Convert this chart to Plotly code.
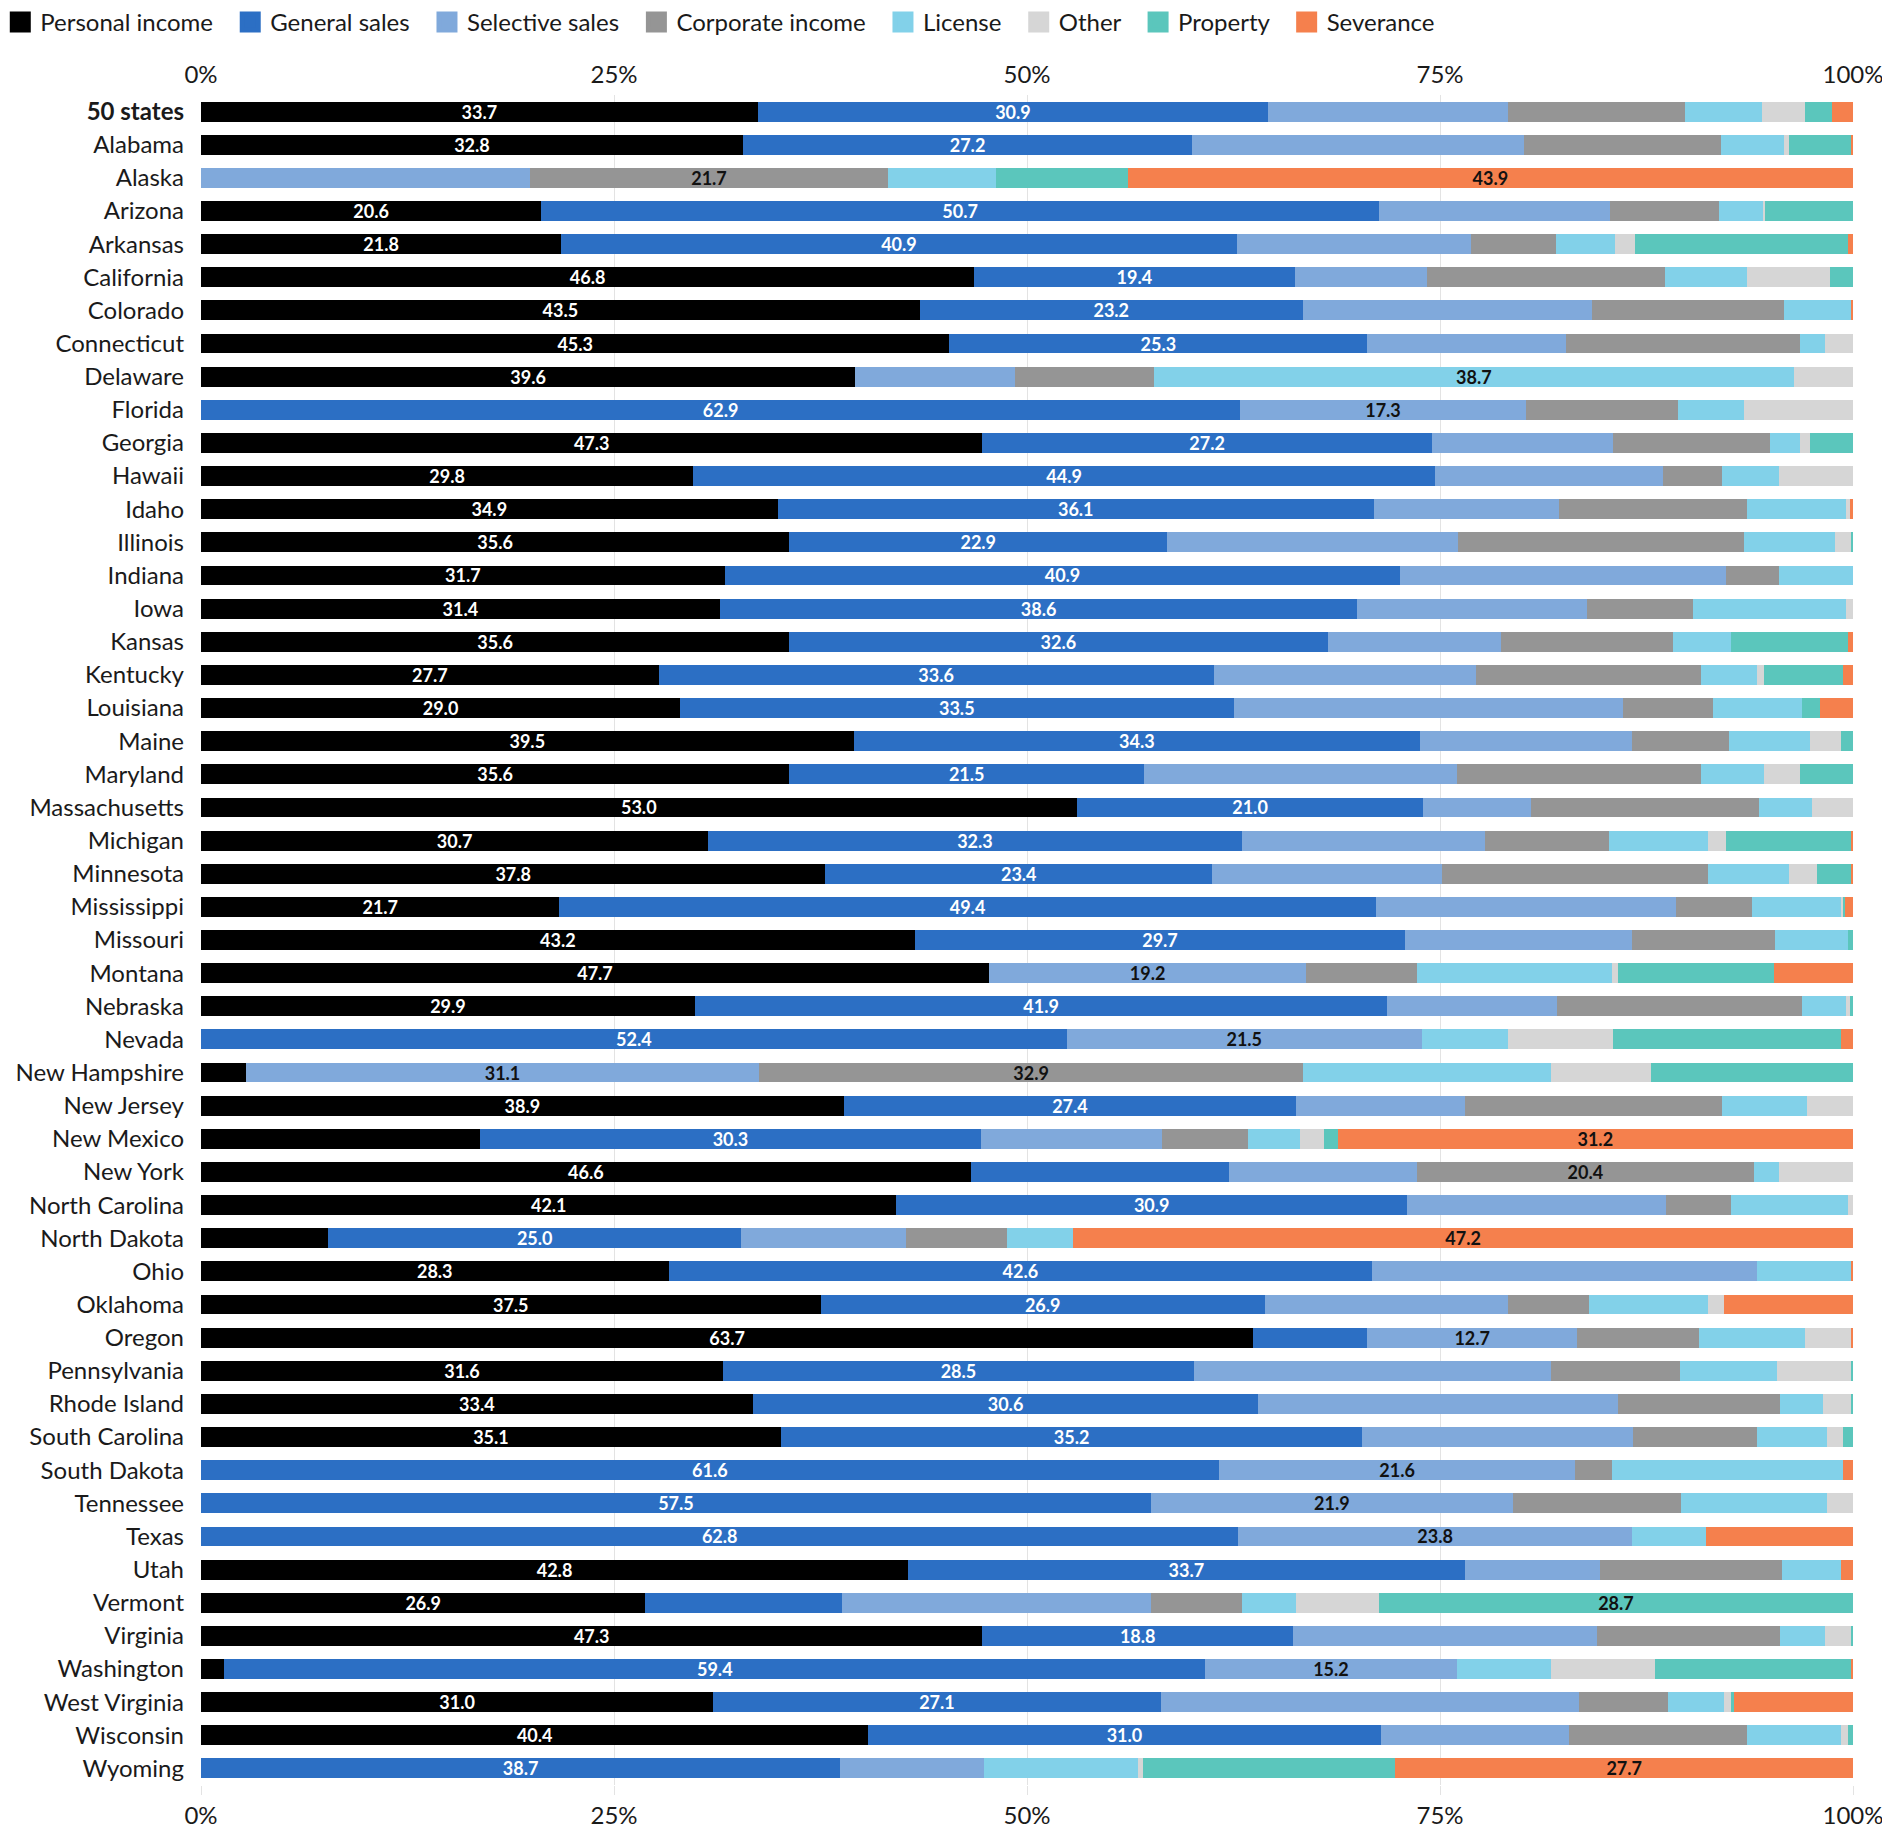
import plotly.graph_objects as go

states = ["50 states", "Alabama", "Alaska", "Arizona", "Arkansas", "California", "Colorado",
          "Connecticut", "Delaware", "Florida", "Georgia", "Hawaii", "Idaho", "Illinois",
          "Indiana", "Iowa", "Kansas", "Kentucky", "Louisiana", "Maine", "Maryland",
          "Massachusetts", "Michigan", "Minnesota", "Mississippi", "Missouri", "Montana",
          "Nebraska", "Nevada", "New Hampshire", "New Jersey", "New Mexico", "New York",
          "North Carolina", "North Dakota", "Ohio", "Oklahoma", "Oregon", "Pennsylvania",
          "Rhode Island", "South Carolina", "South Dakota", "Tennessee", "Texas", "Utah",
          "Vermont", "Virginia", "Washington", "West Virginia", "Wisconsin", "Wyoming"]

personal_income = [33.7, 32.8, 0, 20.6, 21.8, 46.8, 43.5, 45.3, 39.6, 0, 47.3, 29.8, 34.9, 35.6,
                   31.7, 31.4, 35.6, 27.7, 29.0, 39.5, 35.6, 53.0, 30.7, 37.8, 21.7, 43.2, 47.7,
                   29.9, 0, 2.7, 38.9, 16.9, 46.6, 42.1, 7.7, 28.3, 37.5, 63.7, 31.6, 33.4, 35.1,
                   0, 0, 0, 42.8, 26.9, 47.3, 1.4, 31.0, 40.4, 0]
general_sales = [30.9, 27.2, 0, 50.7, 40.9, 19.4, 23.2, 25.3, 0, 62.9, 27.2, 44.9, 36.1, 22.9,
                 40.9, 38.6, 32.6, 33.6, 33.5, 34.3, 21.5, 21.0, 32.3, 23.4, 49.4, 29.7, 0,
                 41.9, 52.4, 0, 27.4, 30.3, 15.6, 30.9, 25.0, 42.6, 26.9, 6.9, 28.5, 30.6, 35.2,
                 61.6, 57.5, 62.8, 33.7, 11.9, 18.8, 59.4, 27.1, 31.0, 38.7]
selective_sales = [14.5, 20.1, 19.9, 14.0, 14.2, 8.0, 17.5, 12.0, 9.7, 17.3, 11.0, 13.8, 11.2,
                   17.6, 19.7, 13.9, 10.5, 15.9, 23.6, 12.8, 18.9, 6.5, 14.7, 13.9, 18.2, 13.7,
                   19.2, 10.3, 21.5, 31.1, 10.2, 11.0, 11.4, 15.7, 10.0, 23.3, 14.7, 12.7, 21.6,
                   21.8, 16.4, 21.6, 21.9, 23.8, 8.2, 18.7, 18.4, 15.2, 25.3, 11.4, 8.7]
corporate_income = [10.7, 11.9, 21.7, 6.6, 5.1, 14.4, 11.6, 14.2, 8.4, 9.2, 9.5, 3.6, 11.4, 17.3,
                    3.2, 6.4, 10.4, 13.6, 5.4, 5.9, 14.8, 13.8, 7.5, 16.1, 4.6, 8.7, 6.7, 14.8,
                    0, 32.9, 15.6, 5.2, 20.4, 3.9, 6.1, 0, 4.9, 7.4, 7.8, 9.8, 7.5, 2.2, 10.2,
                    0, 11.0, 5.5, 11.1, 0, 5.4, 10.8, 0]
license_tax = [4.7, 3.8, 6.5, 2.7, 3.6, 5.0, 4.1, 1.5, 38.7, 4.0, 1.8, 3.4, 6.0, 5.5, 4.5, 9.3,
               3.5, 3.4, 5.4, 4.9, 3.8, 3.2, 6.0, 4.9, 5.4, 4.4, 11.8, 2.7, 5.2, 15.0, 5.1, 3.1,
               1.5, 7.1, 4.0, 5.7, 7.2, 6.4, 5.9, 2.6, 4.2, 14.0, 8.8, 4.5, 3.6, 3.3, 2.7, 5.7,
               3.4, 5.7, 9.3]
other = [2.6, 0.3, 0, 0.1, 1.2, 5.0, 0, 1.7, 3.6, 6.6, 0.6, 4.5, 0.2, 1.0, 0, 0.4, 0, 0.4, 0,
         1.9, 2.2, 2.5, 1.1, 1.7, 0.1, 0, 0.4, 0.2, 6.4, 6.1, 2.8, 1.5, 4.5, 0.3, 0, 0, 1.0, 2.8,
         4.5, 1.7, 1.0, 0, 1.6, 0, 0, 5.0, 1.6, 6.3, 0.4, 0.4, 0.3]
property_tax = [1.6, 3.8, 8.0, 5.3, 12.9, 1.4, 0, 0, 0, 0, 2.6, 0, 0, 0.1, 0, 0, 7.1, 4.8, 1.1,
                0.7, 3.2, 0, 7.6, 2.1, 0.1, 0.3, 9.4, 0.2, 13.8, 12.2, 0, 0.8, 0, 0, 0, 0, 0, 0,
                0.1, 0.1, 0.6, 0, 0, 0, 0, 28.7, 0.1, 11.9, 0.2, 0.3, 15.3]
severance = [1.3, 0.1, 43.9, 0, 0.3, 0, 0.1, 0, 0, 0, 0, 0, 0.2, 0, 0, 0, 0.3, 0.6, 2.0, 0, 0, 0,
             0.1, 0.1, 0.5, 0, 4.8, 0, 0.7, 0, 0, 31.2, 0, 0, 47.2, 0.1, 7.8, 0.1, 0, 0, 0, 0.6,
             0, 8.9, 0.7, 0, 0, 0.1, 7.2, 0, 27.7]

series_names = ["Personal income", "General sales", "Selective sales", "Corporate income",
                "License", "Other", "Property", "Severance"]
series_values = [personal_income, general_sales, selective_sales, corporate_income,
                 license_tax, other, property_tax, severance]
colors = ["#000000", "#2c6fc4", "#80a9db", "#959595", "#82d1e9", "#d6d6d6", "#5bc6bc", "#f5804d"]
label_colors = ["#ffffff", "#ffffff", "#111111", "#111111", "#111111", "#111111", "#111111", "#111111"]

x_ticks = [0, 25, 50, 75, 100]
x_ticktext = ["0%", "25%", "50%", "75%", "100%"]

# top two segments of each row get a label
top2 = []
for i in range(len(states)):
    row = [(series_values[k][i], k) for k in range(len(series_values))]
    row.sort(reverse=True)
    top2.append({row[0][1], row[1][1]})

FONT = "Lato"
fig = go.Figure()
for k, (name, vals) in enumerate(zip(series_names, series_values)):
    texts = [f"{v:.1f}" if k in top2[i] else "" for i, v in enumerate(vals)]
    fig.add_trace(go.Bar(
        y=states, x=vals, name=name, orientation="h",
        marker=dict(color=colors[k], line=dict(width=0)),
        text=texts, textposition="inside", insidetextanchor="middle", textangle=0,
        textfont=dict(family=FONT, size=18, color=label_colors[k], weight="bold"),
        showlegend=False, hoverinfo="x+y+name",
    ))

# legend entries
for k, name in enumerate(series_names):
    fig.add_trace(go.Scatter(
        x=[None], y=[None], mode="markers", name=name + "\u00a0\u00a0",
        marker=dict(symbol="square", size=16, color=colors[k],
                    line=dict(color=colors[k], width=5)),
        showlegend=True,
    ))

# invisible trace to create bottom axis
fig.add_trace(go.Scatter(x=[0, 100], y=[states[0], states[0]], xaxis="x2", mode="markers",
                         marker=dict(opacity=0), showlegend=False, hoverinfo="skip"))

ticktext_y = ["<b>" + s + "</b>" if i == 0 else s for i, s in enumerate(states)]

axis_common = dict(range=[0, 100], tickvals=x_ticks, ticktext=x_ticktext,
                   tickfont=dict(family=FONT, size=24, color="#1a1a1a"),
                   showgrid=True, gridcolor="#e3e3e3", gridwidth=1, zeroline=False,
                   showline=False, fixedrange=True)

n = len(states)
fig.update_layout(
    width=1882, height=1820,
    paper_bgcolor="white", plot_bgcolor="white",
    barmode="stack", bargap=0.4,
    margin=dict(l=193, r=37, t=87, b=43, autoexpand=False),
    font=dict(family=FONT, size=24, color="#1a1a1a"),
    xaxis=dict(side="top", ticks="", ticklabelstandoff=6, **axis_common),
    xaxis2=dict(side="bottom", overlaying="x", anchor="y", ticks="outside", ticklen=9,
                tickcolor="#e3e3e3", ticklabelstandoff=0, **axis_common),
    yaxis=dict(type="category", categoryorder="array", categoryarray=states,
               range=[n - 0.5, -0.5], autorange=False, tickvals=states, ticktext=ticktext_y,
               tickfont=dict(family=FONT, size=24, color="#1a1a1a"),
               ticklabelstandoff=16, showgrid=False, zeroline=False, fixedrange=True),
    legend=dict(orientation="h", x=-0.1215, xanchor="left", y=1.043, yanchor="middle",
                font=dict(family=FONT, size=24, color="#1a1a1a"),
                traceorder="normal", itemclick=False, bgcolor="rgba(0,0,0,0)"),
    uniformtext=dict(minsize=16, mode="show"),
)

fig.write_html("out.html")
